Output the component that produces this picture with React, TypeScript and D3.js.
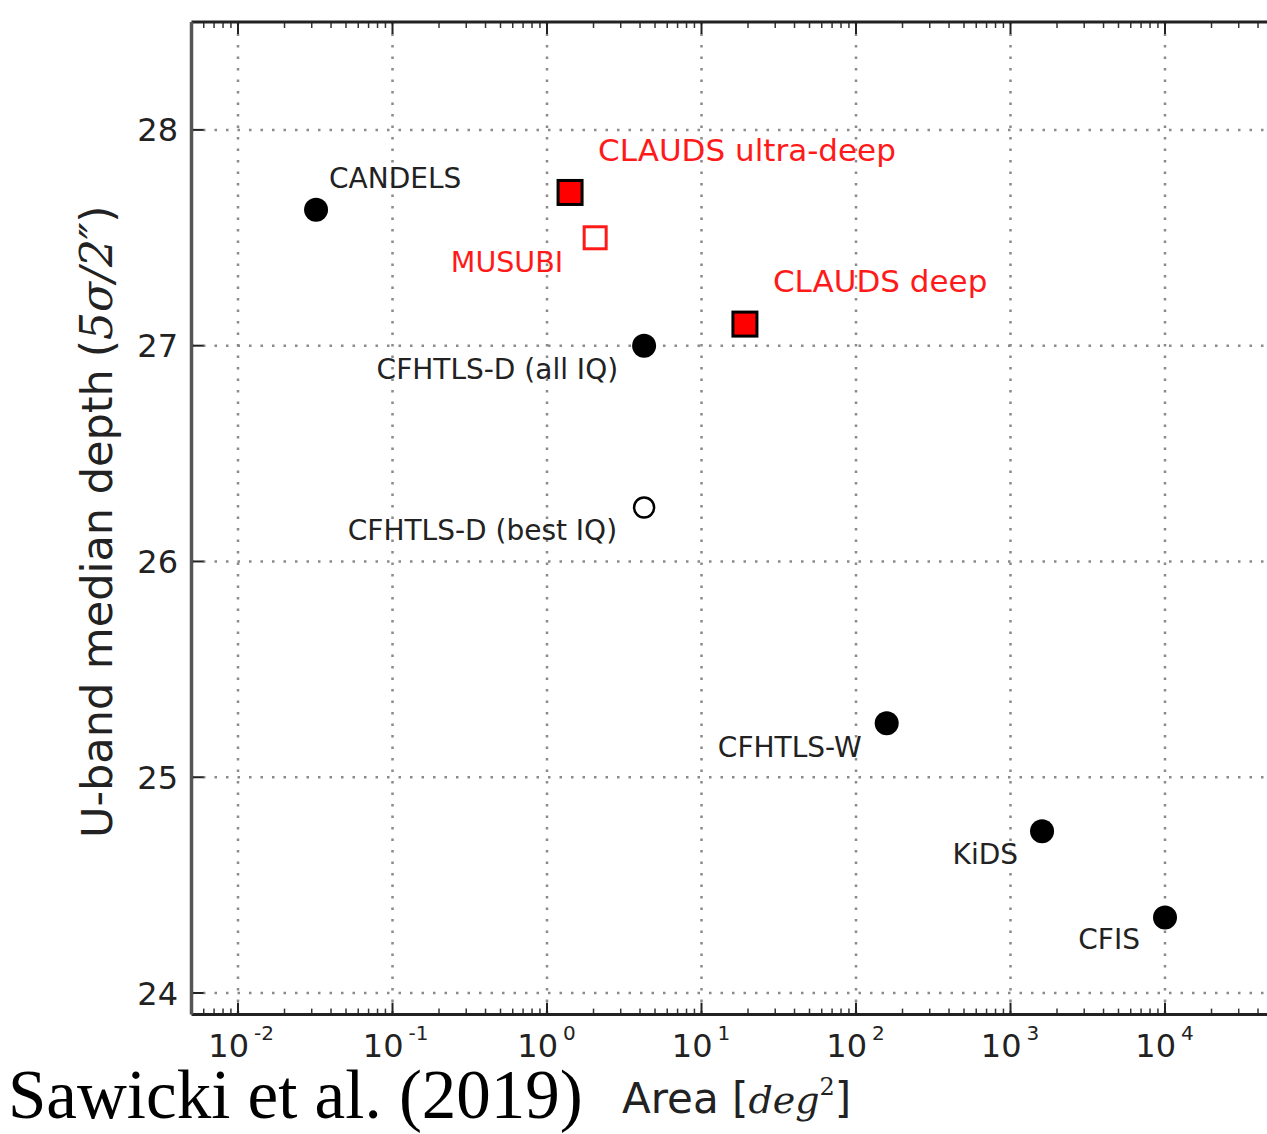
import React from "react";
import * as d3 from "d3";

// ---- data ----
const surveys = [
  "CANDELS",
  "CLAUDS ultra-deep",
  "MUSUBI",
  "CLAUDS deep",
  "CFHTLS-D (all IQ)",
  "CFHTLS-D (best IQ)",
  "CFHTLS-W",
  "KiDS",
  "CFIS",
];
const areas = [0.032, 1.41, 2.05, 19.1, 4.25, 4.25, 158, 1600, 10000];
const depths = [27.63, 27.71, 27.5, 27.1, 27.0, 26.25, 25.25, 24.75, 24.35];
const markerKinds = [
  "dot",
  "square",
  "openSquare",
  "square",
  "dot",
  "openCircle",
  "dot",
  "dot",
  "dot",
];
const xTickExponents = [-2, -1, 0, 1, 2, 3, 4];
const yTickValues = [24, 25, 26, 27, 28];
const xDomain = [0.005, 50000];
const yDomain = [23.9, 28.5];

// ---- layout (label offsets relative to marker, anchor, colour, size) ----
const labelLayout = [
  { dx: 13, dy: -22, anchor: "start", color: "#222", size: 28 },
  { dx: 28, dy: -31, anchor: "start", color: "#ff1a1a", size: 31 },
  { dx: -32, dy: 34, anchor: "end", color: "#ff1a1a", size: 28.5 },
  { dx: 28, dy: -32, anchor: "start", color: "#ff1a1a", size: 31 },
  { dx: -26, dy: 33, anchor: "end", color: "#222", size: 28 },
  { dx: -27, dy: 32, anchor: "end", color: "#222", size: 28 },
  { dx: -25, dy: 34, anchor: "end", color: "#222", size: 28 },
  { dx: -24, dy: 33, anchor: "end", color: "#222", size: 28 },
  { dx: -25, dy: 32, anchor: "end", color: "#222", size: 28 },
];

const W = 1267;
const H = 1134;
const left = 191.5;
const right = 1273;
const top = 22;
const bottom = 1014.6;

export default function App() {
  const x = d3.scaleLog().domain(xDomain).range([left, right]);
  const y = d3.scaleLinear().domain(yDomain).range([bottom, top]);

  const minorTicks: number[] = [];
  for (let e = -3; e <= 4; e++) {
    for (let m = 2; m <= 9; m++) {
      const v = m * Math.pow(10, e);
      if (v > xDomain[0] && v < xDomain[1]) minorTicks.push(v);
    }
  }
  const font = "'DejaVu Sans', sans-serif";
  const gridColor = "#8a8a8a";
  const dash = "2.5,9";

  return (
    <svg
      width={W}
      height={H}
      style={{ position: "absolute", left: 0, top: 0, display: "block", background: "#fff" }}
    >
      {/* grid */}
      {xTickExponents.map((e) => (
        <line
          key={"gx" + e}
          x1={x(Math.pow(10, e))}
          x2={x(Math.pow(10, e))}
          y1={top}
          y2={bottom}
          stroke={gridColor}
          strokeWidth={2.5}
          strokeDasharray={dash}
        />
      ))}
      {yTickValues.map((v) => (
        <line
          key={"gy" + v}
          x1={left}
          x2={right}
          y1={y(v)}
          y2={y(v)}
          stroke={gridColor}
          strokeWidth={2.5}
          strokeDasharray={dash}
        />
      ))}

      {/* ticks */}
      {xTickExponents.map((e) => {
        const px = x(Math.pow(10, e));
        return (
          <g key={"xt" + e}>
            <line x1={px} x2={px} y1={bottom} y2={bottom - 12} stroke="#222" strokeWidth={2} />
            <line x1={px} x2={px} y1={top} y2={top + 12} stroke="#222" strokeWidth={2} />
          </g>
        );
      })}
      {minorTicks.map((v, i) => {
        const px = x(v);
        return (
          <g key={"mt" + i}>
            <line x1={px} x2={px} y1={bottom} y2={bottom - 6} stroke="#333" strokeWidth={1.5} />
            <line x1={px} x2={px} y1={top} y2={top + 6} stroke="#333" strokeWidth={1.5} />
          </g>
        );
      })}
      {yTickValues.map((v) => (
        <line key={"yt" + v} x1={left} x2={left + 12} y1={y(v)} y2={y(v)} stroke="#222" strokeWidth={2} />
      ))}

      {/* spines */}
      <line x1={left} x2={right} y1={top} y2={top} stroke="#222" strokeWidth={3} />
      <line x1={left} x2={right} y1={bottom} y2={bottom} stroke="#222" strokeWidth={3} />
      <line x1={left} x2={left} y1={top} y2={bottom} stroke="#555" strokeWidth={3.5} />

      {/* tick labels */}
      {yTickValues.map((v) => (
        <text
          key={"yl" + v}
          x={178}
          y={y(v)}
          dy="0.36em"
          textAnchor="end"
          fontFamily={font}
          fontSize={32}
          fill="#222"
        >
          {v}
        </text>
      ))}
      {xTickExponents.map((e) => (
        <g key={"xl" + e}>
          <text
            x={x(Math.pow(10, e)) + 11}
            y={1057}
            textAnchor="end"
            fontFamily={font}
            fontSize={32}
            fill="#222"
          >
            10
          </text>
          <text
            x={x(Math.pow(10, e)) + 16}
            y={1040}
            fontFamily={font}
            fontSize={20}
            fill="#222"
          >
            {e < 0 ? "-" + Math.abs(e) : String(e)}
          </text>
        </g>
      ))}

      {/* markers */}
      {surveys.map((s, i) => {
        const px = x(areas[i]);
        const py = y(depths[i]);
        const k = markerKinds[i];
        if (k === "dot") return <circle key={"m" + i} cx={px} cy={py} r={12} fill="#000" />;
        if (k === "openCircle")
          return <circle key={"m" + i} cx={px} cy={py} r={10} fill="#fff" stroke="#000" strokeWidth={2.5} />;
        if (k === "square")
          return (
            <rect key={"m" + i} x={px - 12} y={py - 12} width={24} height={24} fill="#ff0000" stroke="#000" strokeWidth={3} />
          );
        return (
          <rect key={"m" + i} x={px - 11} y={py - 11} width={22} height={22} fill="#fff" stroke="#ff1a1a" strokeWidth={3} />
        );
      })}

      {/* annotations */}
      {surveys.map((s, i) => {
        const L = labelLayout[i];
        return (
          <text
            key={"a" + i}
            x={x(areas[i]) + L.dx}
            y={y(depths[i]) + L.dy}
            textAnchor={L.anchor as any}
            fontFamily={font}
            fontSize={L.size}
            fill={L.color}
          >
            {s}
          </text>
        );
      })}

      {/* y axis label */}
      <text
        transform="translate(112, 838) rotate(-90)"
        fontFamily={font}
        fontSize={43}
        fill="#222"
      >
        U-band median depth
        <tspan fontSize={44} dx={12}>(</tspan>
        <tspan fontSize={44} fontFamily="'DejaVu Serif', serif" fontStyle="italic">5σ/2″</tspan>
        <tspan fontSize={44}>)</tspan>
      </text>

      {/* x axis label */}
      <text x={622} y={1113} fontFamily={font} fontSize={42} fill="#222">
        Area [
        <tspan fontFamily="'DejaVu Serif', serif" fontStyle="italic" fontSize={38}>deg</tspan>
        <tspan fontFamily="'DejaVu Serif', serif" fontSize={24} dy={-18}>2</tspan>
        <tspan dy={18}>]</tspan>
      </text>

      {/* citation */}
      <text x={8} y={1118} fontFamily="'Liberation Serif', 'Times New Roman', serif" fontSize={69} fill="#000">
        Sawicki et al. (2019)
      </text>
    </svg>
  );
}
